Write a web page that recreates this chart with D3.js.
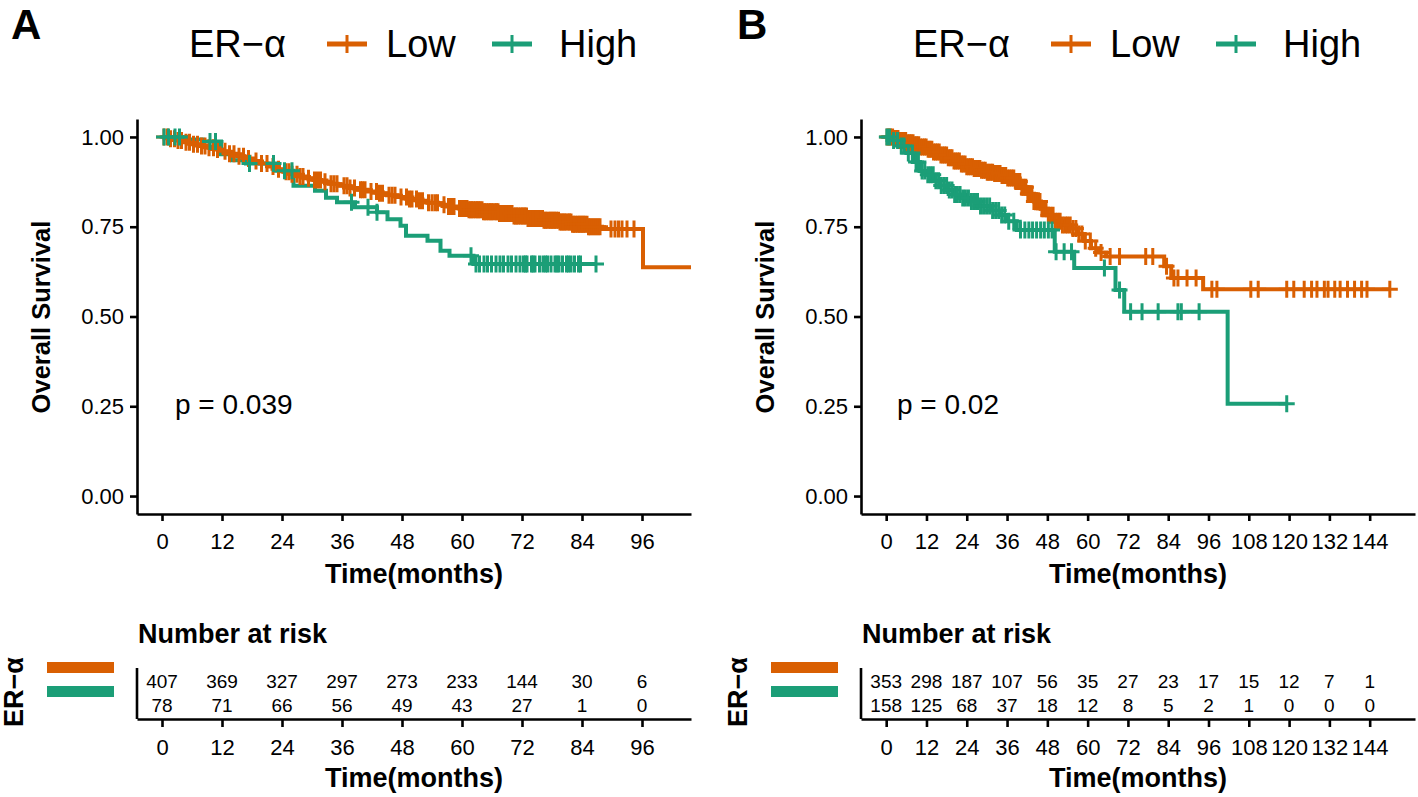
<!DOCTYPE html>
<html><head><meta charset="utf-8">
<script src="https://cdn.jsdelivr.net/npm/d3@7"></script>
<style>body{margin:0;background:#fff;overflow:hidden}</style>
</head><body>
<svg id="c" width="1418" height="797"></svg>
<script>
// ---------------- DATA ----------------
const groupTitle = "ER−α";
const groupNames = ["Low", "High"];
const groupColors = ["#D95F02", "#1B9E77"];
const yTickValues = [0, 0.25, 0.5, 0.75, 1];
const yTickLabels = ["0.00", "0.25", "0.50", "0.75", "1.00"];

// Panel A
const breaksA = [0, 12, 24, 36, 48, 60, 72, 84, 96];
const riskLowA = [407, 369, 327, 297, 273, 233, 144, 30, 6];
const riskHighA = [78, 71, 66, 56, 49, 43, 27, 1, 0];
const pValueA = "p = 0.039";
const lowA_t = [0, 1.4, 3.1, 4.6, 6.2, 7.7, 9.3, 10.6, 12.1, 13.4, 15.1, 16.4, 18.2, 19.6, 21.1, 22.6, 24.3, 25.7, 27.2, 28.6, 30.3, 31.8, 33.4, 35.1, 37.2, 39.0, 41.1, 43.2, 45.0, 47.1, 49.2, 51.0, 53.1, 55.2, 57.0, 59.3, 61.4, 64.1, 67.3, 70.2, 73.1, 76.3, 79.4, 82.1, 85.2, 88.0, 96.2];
const lowA_s = [1, 0.995, 0.99, 0.985, 0.98, 0.975, 0.97, 0.965, 0.96, 0.953, 0.946, 0.94, 0.933, 0.926, 0.918, 0.91, 0.903, 0.896, 0.89, 0.885, 0.88, 0.875, 0.87, 0.864, 0.858, 0.853, 0.848, 0.843, 0.838, 0.833, 0.827, 0.822, 0.817, 0.811, 0.806, 0.801, 0.797, 0.792, 0.787, 0.78, 0.773, 0.768, 0.763, 0.757, 0.75, 0.744, 0.637];
const lowA_end = 106;
const lowA_cens = [0.4, 1.1, 1.7, 2.5, 3.2, 3.9, 4.8, 5.5, 6.3, 7.1, 7.9, 8.6, 9.4, 10.3, 11.1, 12.6, 13.5, 14.4, 15.4, 16.3, 17.3, 18.8, 19.9, 21.0, 22.2, 23.3, 24.8, 25.4, 26.0, 27.0, 27.6, 28.2, 29.3, 30.5, 31.1, 31.7, 32.6, 33.8, 34.4, 35.0, 36.4, 37.0, 37.6, 38.5, 39.7, 40.1, 40.6, 41.8, 42.9, 43.5, 44.1, 45.4, 46.0, 46.6, 47.8, 48.9, 49.5, 50.0, 50.9, 51.5, 52.1, 53.3, 54.0, 54.6, 55.1, 56.4, 57.3, 57.9, 58.4, 59.5, 60.0, 60.3, 60.7, 61.0, 61.4, 61.7, 62.0, 62.3, 62.7, 63.0, 63.3, 63.6, 64.0, 64.3, 64.6, 64.9, 65.3, 65.6, 65.9, 66.2, 66.6, 66.9, 67.2, 67.5, 67.8, 68.1, 68.5, 68.8, 69.1, 69.4, 69.7, 70.0, 70.4, 70.7, 71.0, 71.3, 71.7, 72.0, 72.3, 72.6, 72.9, 73.2, 73.6, 73.9, 74.2, 74.5, 74.8, 75.1, 75.5, 75.8, 76.1, 76.4, 76.7, 77.0, 77.4, 77.7, 78.0, 78.3, 78.6, 78.9, 79.3, 79.6, 79.9, 80.2, 80.5, 80.8, 81.2, 81.5, 81.8, 82.1, 82.4, 82.7, 83.1, 83.4, 83.7, 84.0, 84.3, 84.6, 85.0, 85.3, 85.6, 86.0, 86.4, 86.8, 87.2, 87.6, 89.8, 90.6, 91.3, 92.0, 93.0, 94.4];
const highA_t = [0, 5.2, 8.1, 11.8, 14.0, 16.8, 22.6, 26.3, 30.6, 32.8, 35.0, 38.6, 43.0, 45.1, 47.7, 48.8, 53.1, 55.7, 57.5, 62.3];
const highA_s = [1, 0.993, 0.987, 0.952, 0.935, 0.926, 0.906, 0.864, 0.85, 0.831, 0.818, 0.804, 0.79, 0.771, 0.753, 0.725, 0.711, 0.683, 0.669, 0.646];
const highA_end = 87.0;
const highA_cens = [0.4, 1.3, 2.6, 3.5, 9.6, 10.7, 17.5, 22.3, 24.5, 26.0, 37.9, 41.2, 43.0, 61.8, 62.8, 63.5, 64.4, 65.1, 65.9, 66.8, 67.6, 68.3, 69.2, 69.9, 70.8, 71.6, 72.3, 72.7, 73.0, 73.9, 74.2, 74.6, 75.5, 76.2, 76.7, 77.1, 77.8, 78.6, 79.0, 79.4, 80.1, 80.9, 81.3, 81.8, 82.5, 83.3, 83.7, 86.8];

// Panel B
const breaksB = [0, 12, 24, 36, 48, 60, 72, 84, 96, 108, 120, 132, 144];
const riskLowB = [353, 298, 187, 107, 56, 35, 27, 23, 17, 15, 12, 7, 1];
const riskHighB = [158, 125, 68, 37, 18, 12, 8, 5, 2, 1, 0, 0, 0];
const pValueB = "p = 0.02";
const lowB_t = [0, 2.0, 4.1, 6.0, 8.1, 10.0, 12.1, 14.0, 16.1, 18.1, 20.0, 22.1, 24.0, 26.1, 28.0, 30.1, 32.0, 34.1, 36.0, 38.1, 40.0, 42.1, 44.0, 46.1, 48.0, 50.1, 52.0, 55.0, 57.1, 59.0, 61.0, 63.1, 65.5, 82.8, 84.9, 94.4];
const lowB_s = [1, 0.996, 0.99, 0.984, 0.978, 0.972, 0.966, 0.958, 0.95, 0.942, 0.933, 0.925, 0.917, 0.912, 0.907, 0.902, 0.898, 0.893, 0.886, 0.876, 0.86, 0.842, 0.82, 0.8, 0.782, 0.765, 0.755, 0.745, 0.73, 0.71, 0.69, 0.678, 0.667, 0.64, 0.607, 0.576];
const lowB_end = 150;
const lowB_cens = [0.3, 0.8, 1.3, 1.9, 2.4, 3.0, 3.5, 4.1, 4.6, 5.2, 5.8, 6.3, 6.9, 7.4, 8.0, 8.6, 9.1, 9.7, 10.2, 10.8, 11.4, 11.9, 12.5, 13.0, 13.6, 14.1, 14.7, 15.2, 15.8, 16.3, 16.9, 17.4, 18.0, 18.5, 19.1, 19.6, 20.2, 20.7, 21.3, 21.8, 22.4, 22.9, 23.5, 24.0, 24.6, 25.1, 25.7, 26.2, 26.8, 27.3, 27.9, 28.4, 29.0, 29.5, 30.1, 30.6, 31.2, 31.7, 32.3, 32.8, 33.4, 33.9, 34.5, 35.0, 35.6, 36.2, 36.8, 37.4, 38.0, 38.6, 39.2, 39.8, 40.4, 41.0, 41.6, 42.2, 42.8, 43.4, 44.0, 44.6, 45.2, 45.8, 46.4, 47.0, 47.6, 48.3, 49.0, 49.7, 50.4, 51.1, 51.8, 52.5, 53.3, 54.0, 54.8, 55.6, 56.5, 57.4, 58.3, 59.3, 60.8, 62.4, 64.0, 66.7, 69.5, 77.3, 79.4, 83.5, 85.7, 86.9, 89.6, 92.3, 97.0, 98.5, 108.6, 110.8, 119.3, 121.4, 124.5, 126.7, 128.3, 130.5, 131.6, 133.6, 135.2, 137.4, 139.5, 141.6, 143.2, 150.0];
const highB_t = [0, 2.0, 4.0, 6.1, 8.0, 10.1, 12.0, 14.1, 16.0, 18.1, 20.0, 22.1, 25.0, 28.1, 31.0, 34.1, 36.0, 38.9, 50.2, 56.0, 68.3, 70.9, 101.7];
const highB_s = [1, 0.99, 0.975, 0.955, 0.93, 0.905, 0.895, 0.878, 0.865, 0.852, 0.84, 0.83, 0.82, 0.808, 0.795, 0.783, 0.765, 0.741, 0.68, 0.635, 0.574, 0.513, 0.257];
const highB_end = 119.3;
const highB_cens = [0.2, 1.0, 2.2, 3.4, 4.5, 5.3, 6.6, 7.8, 8.9, 9.6, 10.7, 11.5, 12.4, 13.2, 14.0, 14.8, 15.6, 16.4, 17.2, 18.0, 18.8, 19.6, 20.4, 21.2, 22.0, 22.8, 23.6, 24.5, 25.4, 26.3, 27.2, 28.1, 29.0, 29.9, 30.8, 31.7, 32.6, 33.5, 34.4, 35.3, 36.5, 38.0, 40.0, 41.3, 42.5, 43.6, 44.8, 46.0, 47.1, 48.3, 49.4, 50.6, 53.0, 55.2, 65.0, 69.5, 72.8, 76.2, 81.0, 86.9, 87.9, 93.2, 119.3];

// ---------------- DRAWING ----------------
const FONT = "'Liberation Sans', Arial, Helvetica, sans-serif";
const svg = d3.select("#c");
const defs = svg.append("defs");

function styleAxis(sel, fs) {
  sel.select(".domain").attr("stroke", "#000").attr("stroke-width", 2.6);
  sel.selectAll(".tick line").attr("stroke", "#000").attr("stroke-width", 2.6);
  sel.selectAll(".tick text").attr("fill", "#000").attr("font-size", fs).attr("font-family", FONT);
}

function drawPanel(p) {
  const g = svg.append("g");
  const x = d3.scaleLinear().domain(p.xDomain).range([p.left, p.right]);
  const y = d3.scaleLinear().domain([-0.05, 1.05]).range([514, 119]);
  const cx = (p.left + p.right) / 2;

  // panel letter
  g.append("text").attr("x", p.letterX).attr("y", 39).text(p.letter)
    .attr("font-family", FONT).attr("font-weight", "bold").attr("font-size", 42);

  // legend
  const lg = g.append("g").attr("font-family", FONT).attr("font-size", 38);
  lg.append("text").attr("x", cx - 225).attr("y", 57).text(groupTitle);
  const keyX = [cx - 87, cx + 78];
  const labX = [cx - 28, cx + 145];
  groupNames.forEach((nm, i) => {
    lg.append("line").attr("x1", keyX[i]).attr("x2", keyX[i] + 40).attr("y1", 44).attr("y2", 44)
      .attr("stroke", groupColors[i]).attr("stroke-width", 5);
    lg.append("path").attr("d", `M${keyX[i] + 11},44H${keyX[i] + 29}M${keyX[i] + 20},35V53`)
      .attr("stroke", groupColors[i]).attr("stroke-width", 3).attr("fill", "none");
    lg.append("text").attr("x", labX[i]).attr("y", 57).text(nm);
  });

  // curves
  const clipId = "clip" + p.letter;
  defs.append("clipPath").attr("id", clipId).append("rect")
    .attr("x", p.left).attr("y", 119).attr("width", p.right - p.left).attr("height", 395);
  const plot = g.append("g").attr("clip-path", `url(#${clipId})`);
  const line = d3.line().x(d => x(d[0])).y(d => y(d[1])).curve(d3.curveStepAfter);
  p.series.forEach(s => {
    const pts = s.t.map((t, i) => [t, s.s[i]]);
    pts.push([s.end, s.s[s.s.length - 1]]);
    plot.append("path").attr("d", line(pts)).attr("fill", "none")
      .attr("stroke", s.color).attr("stroke-width", 4).attr("stroke-linejoin", "miter");
  });
  p.series.forEach(s => {
    s.cens.forEach(c => {
      const i = Math.max(0, d3.bisectRight(s.t, c) - 1);
      const px = x(c), py = y(s.s[i]);
      plot.append("path").attr("d", `M${px - 8},${py}H${px + 8}M${px},${py - 8.5}V${py + 8.5}`)
        .attr("stroke", s.color).attr("stroke-width", 3).attr("fill", "none");
    });
  });

  // axes
  const ya = g.append("g").attr("transform", `translate(${p.left},0)`)
    .call(d3.axisLeft(y).tickValues(yTickValues).tickFormat((d, i) => yTickLabels[i])
      .tickSize(7).tickSizeOuter(0).tickPadding(6));
  styleAxis(ya, 22);
  const xa = g.append("g").attr("transform", `translate(0,514)`)
    .call(d3.axisBottom(x).tickValues(p.breaks).tickSize(7).tickSizeOuter(0).tickPadding(12));
  styleAxis(xa, 22);

  g.append("text").attr("transform", `translate(${p.left - 87},317) rotate(-90)`)
    .attr("text-anchor", "middle").attr("font-family", FONT).attr("font-weight", "bold")
    .attr("font-size", 25.5).text("Overall Survival");
  g.append("text").attr("x", cx).attr("y", 583).attr("text-anchor", "middle")
    .attr("font-family", FONT).attr("font-weight", "bold").attr("font-size", 27).text("Time(months)");
  g.append("text").attr("x", p.pX).attr("y", 414).attr("font-family", FONT)
    .attr("font-size", 28).text(p.pText);

  // risk table
  g.append("text").attr("x", p.left + 1).attr("y", 643).attr("font-family", FONT)
    .attr("font-weight", "bold").attr("font-size", 27).text("Number at risk");
  const rowY = [688, 712];
  [p.riskLow, p.riskHigh].forEach((row, r) => {
    g.append("g").selectAll("text").data(row).join("text")
      .attr("x", (d, i) => x(p.breaks[i])).attr("y", rowY[r]).attr("text-anchor", "middle")
      .attr("font-family", FONT).attr("font-size", 19).text(d => d);
  });
  g.append("line").attr("x1", p.left).attr("x2", p.left).attr("y1", 668).attr("y2", 719)
    .attr("stroke", "#000").attr("stroke-width", 2.6);
  const ra = g.append("g").attr("transform", `translate(0,719)`)
    .call(d3.axisBottom(x).tickValues(p.breaks).tickSize(8).tickSizeOuter(0).tickPadding(12));
  styleAxis(ra, 22);
  g.append("text").attr("x", cx).attr("y", 787).attr("text-anchor", "middle")
    .attr("font-family", FONT).attr("font-weight", "bold").attr("font-size", 27).text("Time(months)");
  // risk legend
  const barY = [662, 686];
  groupColors.forEach((col, i) => {
    g.append("rect").attr("x", p.left - 90).attr("y", barY[i]).attr("width", 67).attr("height", 11).attr("fill", col);
  });
  g.append("text").attr("transform", `translate(${p.left - 114},692) rotate(-90)`)
    .attr("text-anchor", "middle").attr("font-family", FONT).attr("font-weight", "bold")
    .attr("font-size", 27).text(groupTitle);
}

drawPanel({
  letter: "A", letterX: 11, left: 137, right: 691, xDomain: [-5, 105.8],
  breaks: breaksA, riskLow: riskLowA, riskHigh: riskHighA, pText: pValueA, pX: 175,
  series: [
    { t: lowA_t, s: lowA_s, end: lowA_end, cens: lowA_cens, color: groupColors[0] },
    { t: highA_t, s: highA_s, end: highA_end, cens: highA_cens, color: groupColors[1] }
  ]
});
drawPanel({
  letter: "B", letterX: 737, left: 861, right: 1415, xDomain: [-7.5, 157.5],
  breaks: breaksB, riskLow: riskLowB, riskHigh: riskHighB, pText: pValueB, pX: 897,
  series: [
    { t: lowB_t, s: lowB_s, end: lowB_end, cens: lowB_cens, color: groupColors[0] },
    { t: highB_t, s: highB_s, end: highB_end, cens: highB_cens, color: groupColors[1] }
  ]
});
</script>
</body></html>
